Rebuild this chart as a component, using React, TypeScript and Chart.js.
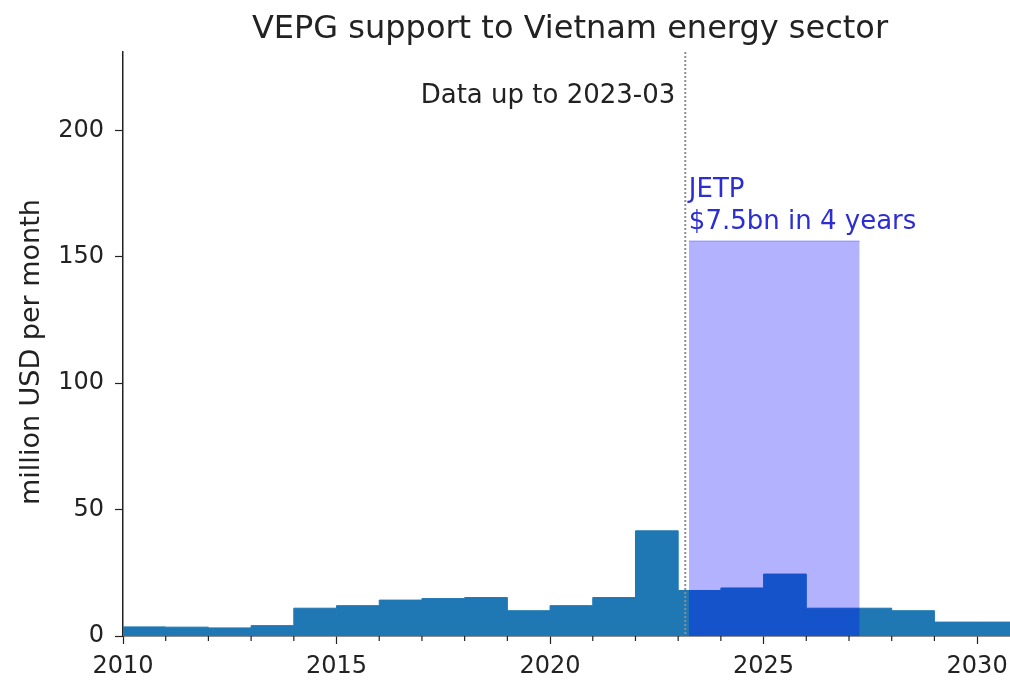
import React, { useEffect, useRef } from "react";
import { Chart, registerables } from "chart.js";

Chart.register(...registerables);

// Step start years (value holds until the next start)
const stepYears = [2010, 2011, 2012, 2013, 2014, 2015, 2016, 2017, 2018, 2019, 2020, 2021, 2022, 2023, 2024, 2025, 2026, 2027, 2028, 2029, 2030, 2031];
const stepValues = [3.6, 3.5, 3.2, 4.1, 11, 12, 14.2, 14.8, 15.2, 10, 12, 15.2, 41.6, 18, 19, 24.5, 11, 11, 10, 5.5, 5.5, 5.5];

const jetpYears = [2023.25, 2027.25];
const jetpValues = [156.25, 156.25];

const dataCutoff = 2023 + 2 / 12;
const xMajorTicks = [2010, 2015, 2020, 2025, 2030];
const xMinorTicks = [2011, 2012, 2013, 2014, 2016, 2017, 2018, 2019, 2021, 2022, 2023, 2024, 2026, 2027, 2028, 2029];
const yTicks = [0, 50, 100, 150, 200];

const titleText = "VEPG support to Vietnam energy sector";
const yTitleText = "million USD per month";
const cutoffText = "Data up to 2023-03";
const jetpLines = ["JETP", "$7.5bn in 4 years"];

const FONT = "'DejaVu Sans', sans-serif";

export default function App() {
  const ref = useRef<HTMLCanvasElement | null>(null);

  useEffect(() => {
    if (!ref.current) return;
    const overlay = {
      id: "overlay",
      afterDraw(chart: any) {
        const ctx = chart.ctx;
        const xs = chart.scales.x;
        const area = chart.chartArea;
        ctx.save();
        // minor ticks
        ctx.strokeStyle = "#222";
        ctx.lineWidth = 1.2;
        for (const v of xMinorTicks) {
          const px = xs.getPixelForValue(v);
          ctx.beginPath();
          ctx.moveTo(px, area.bottom);
          ctx.lineTo(px, area.bottom + 5);
          ctx.stroke();
        }
        // cutoff dotted line
        const cx = xs.getPixelForValue(dataCutoff);
        ctx.strokeStyle = "#8f8f8f";
        ctx.lineWidth = 2;
        ctx.setLineDash([2, 2]);
        ctx.beginPath();
        ctx.moveTo(cx, area.top);
        ctx.lineTo(cx, area.bottom);
        ctx.stroke();
        ctx.setLineDash([]);
        // title
        ctx.fillStyle = "#222";
        ctx.font = `32px ${FONT}`;
        ctx.textAlign = "center";
        ctx.textBaseline = "alphabetic";
        ctx.fillText(titleText, 570, 38);
        // cutoff text
        ctx.font = `26px ${FONT}`;
        ctx.textAlign = "right";
        ctx.fillText(cutoffText, cx - 10, 103);
        // JETP text
        ctx.fillStyle = "#2d2dd4";
        ctx.textAlign = "left";
        const jx = xs.getPixelForValue(jetpYears[0]);
        ctx.fillText(jetpLines[0], jx, 197);
        ctx.fillText(jetpLines[1], jx, 229);
        // y title
        ctx.fillStyle = "#222";
        ctx.font = `27px ${FONT}`;
        ctx.translate(39, 352);
        ctx.rotate(-Math.PI / 2);
        ctx.textAlign = "center";
        ctx.fillText(yTitleText, 0, 0);
        ctx.restore();
      },
    };

    const chart = new Chart(ref.current, {
      type: "line",
      data: {
        datasets: [
          {
            data: jetpYears.map((x, i) => ({ x, y: jetpValues[i] })),
            fill: "origin",
            backgroundColor: "rgba(0,0,255,0.3)",
            borderColor: "rgba(0,0,255,0.3)",
            borderWidth: 1,
            pointRadius: 0,
            order: 0,
          },
          {
            data: stepYears.map((x, i) => ({ x, y: stepValues[i] })),
            stepped: "before",
            fill: "origin",
            backgroundColor: "#1f77b4",
            borderColor: "#1f77b4",
            borderWidth: 1,
            pointRadius: 0,
            order: 1,
          },
        ],
      },
      options: {
        animation: false,
        responsive: false,
        layout: { padding: { top: 52, right: 0, left: 0, bottom: 0 } },
        plugins: { legend: { display: false }, tooltip: { enabled: false }, title: { display: false } },
        scales: {
          x: {
            type: "linear",
            min: 2010,
            max: 2030.77,
            afterBuildTicks: (s: any) => {
              s.ticks = xMajorTicks.map((v) => ({ value: v }));
            },
            afterFit: (s: any) => {
              s.height = 45;
              s.paddingLeft = 0;
              s.paddingRight = 0;
            },
            ticks: {
              font: { family: FONT, size: 24 },
              color: "#222",
              padding: 8,
              maxRotation: 0,
              autoSkip: false,
              callback: (v: any) => String(v),
            },
            grid: { drawOnChartArea: false, drawTicks: true, tickLength: 8, tickColor: "#222", tickWidth: 1.2 },
            border: { display: true, color: "#222", width: 1.5 },
          },
          y: {
            type: "linear",
            min: 0,
            max: 231,
            afterBuildTicks: (s: any) => {
              s.ticks = yTicks.map((v) => ({ value: v }));
            },
            afterFit: (s: any) => {
              s.width = 123;
              s.paddingTop = 0;
              s.paddingBottom = 0;
            },
            ticks: {
              font: { family: FONT, size: 24 },
              color: "#222",
              padding: 11,
              autoSkip: false,
              callback: (v: any) => String(v),
            },
            grid: { drawOnChartArea: false, drawTicks: true, tickLength: 8, tickColor: "#222", tickWidth: 1.2 },
            border: { display: true, color: "#222", width: 1.5 },
          },
        },
      },
      plugins: [overlay],
    } as any);
    return () => chart.destroy();
  }, []);

  return (
    <div style={{ position: "absolute", left: 0, top: 0, width: 1010, height: 681, background: "#fff" }}>
      <canvas ref={ref} width={1010} height={681} style={{ width: 1010, height: 681, display: "block" }} />
    </div>
  );
}
